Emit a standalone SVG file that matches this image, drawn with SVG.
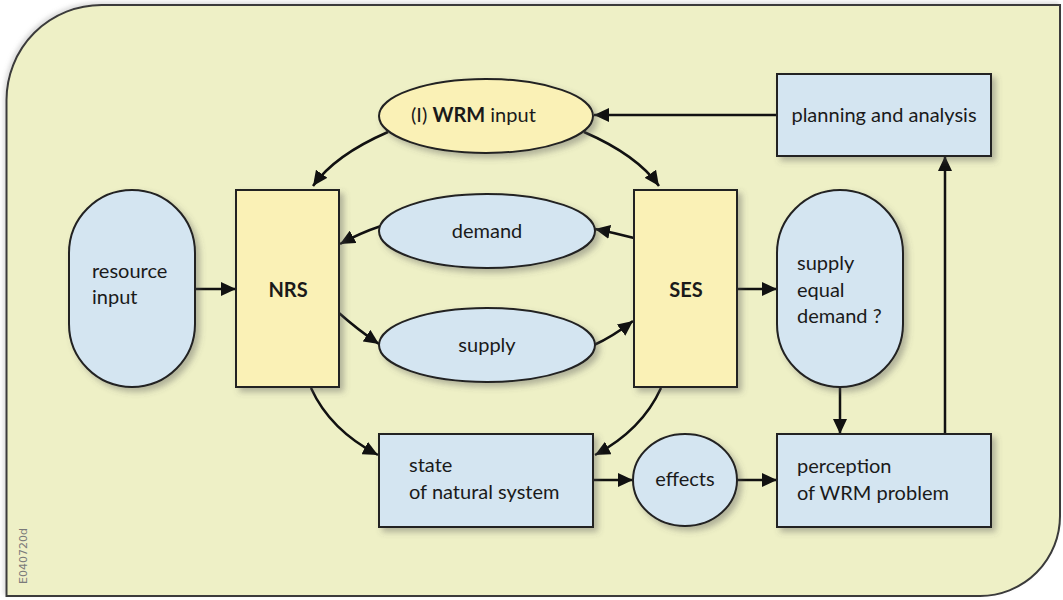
<svg xmlns="http://www.w3.org/2000/svg" width="1063" height="600" viewBox="0 0 1063 600">
<defs>
<style>
.bg{fill:#eef0c6;stroke:#3a3a3a;stroke-width:2}
.blue{fill:#d4e5f1;stroke:#222;stroke-width:2}
.yel{fill:#faf1b6;stroke:#222;stroke-width:2}
.t{font-family:Lato,"Open Sans","Liberation Sans",sans-serif;font-size:20px;fill:#1a1a1a}
.b{font-weight:bold}
.c{text-anchor:middle}
.conn path{fill:none;stroke:#111;stroke-width:2.5;marker-end:url(#ah)}
</style>
<marker id="ah" markerUnits="userSpaceOnUse" markerWidth="16" markerHeight="14" refX="15" refY="7" orient="auto">
<path d="M0,0 L15,7 L0,14 Z" fill="#111"/>
</marker>
<filter id="sh" x="-20%" y="-20%" width="150%" height="150%">
<feDropShadow dx="4" dy="4" stdDeviation="3" flood-color="#555" flood-opacity="0.4"/>
</filter>
<filter id="bgsh" x="-5%" y="-5%" width="110%" height="110%">
<feDropShadow dx="-2" dy="-2" stdDeviation="2" flood-color="#888" flood-opacity="0.3"/>
</filter>
</defs>
<rect width="1063" height="600" fill="#ffffff"/>
<path class="bg" filter="url(#bgsh)" d="M6.5,100 A95,95 0 0 1 101.5,5 L1060,5 L1060,516 A80,80 0 0 1 980,596 L6.5,596 Z"/>
<text transform="translate(27,584) rotate(-90)" font-family="'DejaVu Sans','Liberation Sans',sans-serif" font-size="11" fill="#7a7a7a">E040720d</text>

<g class="conn">
<path d="M388,132 Q335,155 313,186"/>
<path d="M584,132 Q637,155 659,186"/>
<path d="M381,226 Q360,233 340,244"/>
<path d="M634,238 Q615,233 595,229"/>
<path d="M339,313 Q358,330 379,344"/>
<path d="M594,345 Q612,337 633,321"/>
<path d="M311,388 Q330,430 378,455"/>
<path d="M661,388 Q642,430 595,455"/>
<path d="M195,289 L236,289"/>
<path d="M737,289 L777,289"/>
<path d="M840,387 L840,434"/>
<path d="M945,434 L945,156"/>
<path d="M777,115 L594,115"/>
<path d="M593,480 L633,480"/>
<path d="M737,480 L777,480"/>
</g>

<g id="wrm-input">
<ellipse class="yel" filter="url(#sh)" cx="486" cy="116" rx="107" ry="37"/>
<text class="t" x="411" y="122">(I) <tspan class="b">WRM</tspan> input</text>
</g>
<g id="planning">
<rect class="blue" filter="url(#sh)" x="777" y="74" width="214" height="82"/>
<text class="t c" x="884" y="122">planning and analysis</text>
</g>
<g id="resource-input">
<rect class="blue" filter="url(#sh)" x="69" y="190" width="126" height="197" rx="63" ry="63"/>
<text class="t" x="92" y="278">resource</text>
<text class="t" x="92" y="304">input</text>
</g>
<g id="nrs">
<rect class="yel" filter="url(#sh)" x="236" y="190" width="103" height="197"/>
<text class="t b c" x="288" y="297" font-size="24">NRS</text>
</g>
<g id="ses">
<rect class="yel" filter="url(#sh)" x="634" y="190" width="103" height="197"/>
<text class="t b c" x="686" y="297" font-size="24">SES</text>
</g>
<g id="demand">
<ellipse class="blue" filter="url(#sh)" cx="487" cy="231" rx="108" ry="37"/>
<text class="t c" x="487" y="238">demand</text>
</g>
<g id="supply">
<ellipse class="blue" filter="url(#sh)" cx="487" cy="345" rx="108" ry="37"/>
<text class="t c" x="487" y="352">supply</text>
</g>
<g id="supply-equal-demand">
<rect class="blue" filter="url(#sh)" x="777" y="190" width="126" height="197" rx="63" ry="63"/>
<text class="t" x="797" y="270">supply</text>
<text class="t" x="797" y="297">equal</text>
<text class="t" x="797" y="323">demand ?</text>
</g>
<g id="state">
<rect class="blue" filter="url(#sh)" x="379" y="434" width="214" height="93"/>
<text class="t" x="409" y="472">state</text>
<text class="t" x="409" y="499">of natural system</text>
</g>
<g id="effects">
<ellipse class="blue" filter="url(#sh)" cx="685" cy="480" rx="52" ry="46"/>
<text class="t c" x="685" y="486">effects</text>
</g>
<g id="perception">
<rect class="blue" filter="url(#sh)" x="777" y="434" width="214" height="93"/>
<text class="t" x="797" y="473">perception</text>
<text class="t" x="797" y="500">of WRM problem</text>
</g>
</svg>
